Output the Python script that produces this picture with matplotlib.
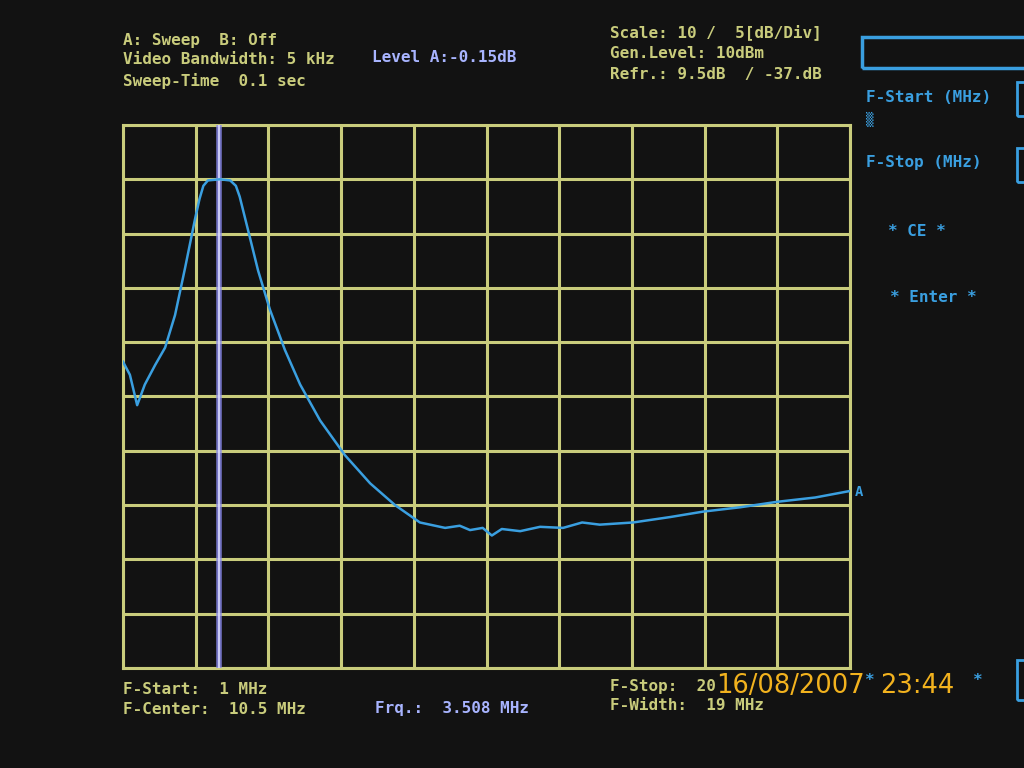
import matplotlib.pyplot as plt
from matplotlib.patches import Rectangle

# trace: frequency (MHz) and level (dB)
freq_mhz = [1.0, 1.18, 1.37, 1.57, 1.84, 2.10, 2.36, 2.62, 2.88, 3.00, 3.10, 3.22, 3.53,
            3.80, 3.95, 4.05, 4.27, 4.53, 4.84, 5.23, 5.63, 6.15, 6.80, 7.46, 8.11, 8.76,
            9.42, 9.80, 10.07, 10.40, 10.64, 10.90, 11.38, 11.90, 12.50, 13.00, 13.46,
            14.33, 15.30, 16.16, 17.13, 18.09, 19.09, 20.0]
level_db = [-16.8, -18.0, -20.8, -18.9, -17.1, -15.5, -12.5, -8.2, -3.7, -1.8, -0.6, -0.1, 0.0,
            -0.1, -0.6, -1.6, -4.7, -8.4, -12.0, -15.7, -18.9, -22.2, -25.4, -28.0, -30.0, -31.6,
            -32.1, -31.9, -32.3, -32.1, -32.8, -32.2, -32.4, -32.0, -32.1, -31.6, -31.8,
            -31.6, -31.1, -30.6, -30.2, -29.7, -29.3, -28.7]

f_start, f_stop = 1.0, 20.0
ref_top, db_per_div = 5.0, 5.0
marker_mhz = 3.508
date_str, time_str = '16/08/2007', '23:44'

bg = '#121212'
yellow = '#c9cc7c'
blue = '#3a9fe0'
lav = '#a8b4ff'
orange = '#f2b21e'

fig = plt.figure(figsize=(10.24, 7.68), dpi=100, facecolor=bg)
ax = fig.add_axes([123 / 1024, 1 - 668 / 768, 727 / 1024, 543 / 768], facecolor=bg)

ax.set_xlim(f_start, f_stop)
ax.set_ylim(ref_top - 10 * db_per_div, ref_top)
ax.set_xticks([f_start + i * (f_stop - f_start) / 10 for i in range(11)])
ax.set_yticks([ref_top - i * db_per_div for i in range(11)])
ax.tick_params(length=0, labelbottom=False, labelleft=False)
ax.grid(True, color=yellow, lw=2.2)
for s in ax.spines.values():
    s.set_color(yellow)
    s.set_linewidth(2.2)

ax.axvline(marker_mhz, color='#8c8cf0', lw=4, alpha=0.8, zorder=3)
ax.axvline(marker_mhz, color='#dcdcff', lw=1.2, zorder=3)
ax.plot(freq_mhz, level_db, color=blue, lw=1.8, zorder=4)


def txt(x, y, s, c=yellow, size=11.5, **kw):
    fig.text(x / 1024, 1 - y / 768, s, color=c, fontsize=size, va='center',
             family='DejaVu Sans Mono', fontweight='bold', **kw)


txt(123, 40, 'A: Sweep  B: Off')
txt(123, 60, 'Video Bandwidth: 5 kHz')
txt(123, 81, 'Sweep-Time  0.1 sec')
txt(372, 57, 'Level A:-0.15dB', c=lav)
txt(610, 32, 'Scale: 10 /  5[dB/Div]')
txt(610, 53, 'Gen.Level: 10dBm')
txt(610, 75, 'Refr.: 9.5dB  / -37.dB')

txt(866, 98, 'F-Start (MHz)', c=blue)
txt(866, 119, '\u2592', c=blue, size=9)
txt(866, 163, 'F-Stop (MHz)', c=blue)
txt(888, 231, '* CE *', c=blue)
txt(890, 297, '* Enter *', c=blue)
txt(855, 492, 'A', c=blue, size=10)

txt(123, 689, 'F-Start:  1 MHz')
txt(123, 709, 'F-Center:  10.5 MHz')
txt(375, 709, 'Frq.:  3.508 MHz', c=lav)
txt(610, 686, 'F-Stop:  20')
txt(610, 706, 'F-Width:  19 MHz')
# soft-key label hidden behind the date stamp; only its asterisks show
txt(864, 681, '*', c=blue)
txt(972, 681, '*', c=blue)

fig.patches.append(Rectangle((862 / 1024, 1 - 68 / 768), 170 / 1024, 31 / 768,
                             transform=fig.transFigure, fill=False, ec=blue, lw=2.5))
for y0, y1 in [(82, 116), (148, 182), (660, 700)]:
    fig.patches.append(Rectangle((1017 / 1024, 1 - y1 / 768), 20 / 1024, (y1 - y0) / 768,
                                 transform=fig.transFigure, fill=False, ec=blue, lw=2))

# camera date stamp
fig.text(716 / 1024, 1 - 686 / 768, date_str, color=orange, fontsize=18.5,
         va='center', family='DejaVu Sans', zorder=10)
fig.text(880 / 1024, 1 - 686 / 768, time_str, color=orange, fontsize=18.5,
         va='center', family='DejaVu Sans', zorder=10)

fig.savefig('out.png', dpi=100, facecolor=bg)
